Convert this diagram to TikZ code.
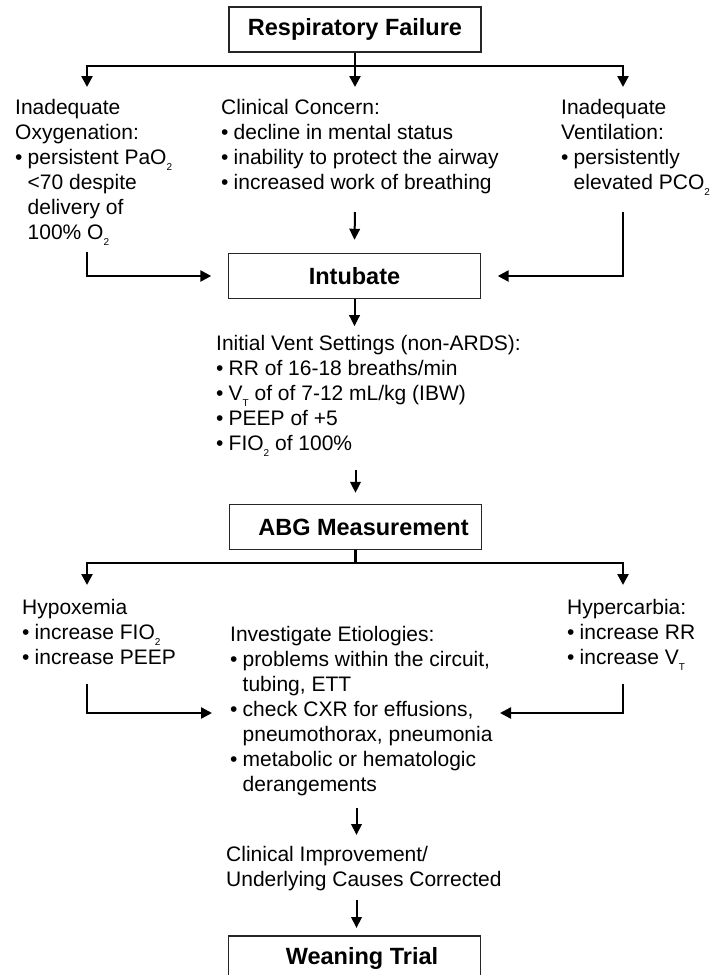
\documentclass[tikz,border=0pt]{standalone}
\usepackage{fontspec}
\setmainfont{Liberation Sans}
\usetikzlibrary{arrows.meta}

% small lowered index as used in PaO2, FIO2, VT
\newcommand\lowsub[1]{\raisebox{-6pt}{\fontsize{10}{10}\selectfont #1}}
% bullet with hanging indent for list items
\newcommand\bulletmark{\makebox[12.5pt][l]{\textbullet}}
\newcommand\contline{\hspace*{12.5pt}}
% stacked lines, baseline on the first line
\newcommand\textlines[1]{\begin{tabular}[t]{@{}l@{}}#1\end{tabular}}

\begin{document}
\begin{tikzpicture}[x=1pt,y=-1pt,
  box/.style={draw=black!85, line width=1.4pt, minimum width=252pt,
    minimum height=45pt, inner sep=0pt,
    font=\fontsize{23.5}{28}\selectfont\bfseries},
  txt/.style={anchor=base west, inner sep=0pt,
    font=\fontsize{21}{25}\selectfont},
  plain/.style={line width=2.4pt},
  branch/.style={line width=2.4pt, -{Triangle[length=11pt,width=11pt]}},
  arr/.style={line width=2pt, -{Triangle[length=11pt,width=10.5pt]}},
]
\useasboundingbox (0,0) rectangle (720,975);
\clip (0,0) rectangle (720,975);

% ---- boxes
\node[box] (resp)  at (355,29.5)   {Respiratory Failure};
\node[box] (intub) at (354.5,276)  {Intubate};
\node[box] (abg)   at (355.5,527)  {\hspace*{16pt}ABG Measurement};
\node[box] (wean)  at (354.5,958.5){\hspace*{15pt}Weaning Trial};

% ---- text blocks
\node[txt] (oxy) at (15,114.5) {\textlines{%
  Inadequate\\
  Oxygenation:\\
  \bulletmark persistent PaO\lowsub{2}\\
  \contline <70 despite\\
  \contline delivery of\\
  \contline 100\% O\lowsub{2}}};

\node[txt] (concern) at (221,114.5) {\textlines{%
  Clinical Concern:\\
  \bulletmark decline in mental status\\
  \bulletmark inability to protect the airway\\
  \bulletmark increased work of breathing}};

\node[txt] (ventil) at (561,114.5) {\textlines{%
  Inadequate\\
  Ventilation:\\
  \bulletmark persistently\\
  \contline elevated PCO\lowsub{2}}};

\node[txt] (settings) at (216,350.5) {\textlines{%
  Initial Vent Settings (non-ARDS):\\
  \bulletmark RR of 16-18 breaths/min\\
  \bulletmark V\lowsub{T} of of 7-12 mL/kg (IBW)\\
  \bulletmark PEEP of +5\\
  \bulletmark FIO\lowsub{2} of 100\%}};

\node[txt] (hypox) at (22,614.5) {\textlines{%
  Hypoxemia\\
  \bulletmark increase FIO\lowsub{2}\\
  \bulletmark increase PEEP}};

\node[txt] (hypercarb) at (567,614.5) {\textlines{%
  Hypercarbia:\\
  \bulletmark increase RR\\
  \bulletmark increase V\lowsub{T}}};

\node[txt] (etiol) at (230,641.5) {\textlines{%
  Investigate Etiologies:\\
  \bulletmark problems within the circuit,\\
  \contline tubing, ETT\\
  \bulletmark check CXR for effusions,\\
  \contline pneumothorax, pneumonia\\
  \bulletmark metabolic or hematologic\\
  \contline derangements}};

\node[txt] (improve) at (226,861.5) {\textlines{%
  Clinical Improvement/\\
  Underlying Causes Corrected}};

% ---- connector end points
\coordinate (hubTop) at (355,66);
\coordinate (tipOxy) at (87,87);
\coordinate (tipConcern) at (355,87);
\coordinate (tipVentil) at (623,87);
\coordinate (oxyOut) at (87,252);
\coordinate (ventilOut) at (623,212);
\coordinate (concernOut) at (355,212);
\coordinate (settingsOut) at (355.5,470);
\coordinate (hubAbg) at (355.5,563);
\coordinate (tipHypox) at (87,585);
\coordinate (tipHypercarb) at (623,585);
\coordinate (hypoxOut) at (87,684);
\coordinate (hypercarbOut) at (623,684);
\coordinate (tipEtiolL) at (212,713);
\coordinate (tipEtiolR) at (500,713);
\coordinate (etiolOut) at (356.5,808);
\coordinate (tipImprove) at (356.5,835);
\coordinate (improveOut) at (356.5,900);
\coordinate (tipWean) at (356.5,928);

% ---- respiratory failure branches
\draw[branch] (resp.south) -- (tipConcern);
\draw[branch] (hubTop) -| (tipOxy);
\draw[branch] (hubTop) -| (tipVentil);

% ---- into intubate
\draw[branch] (oxyOut) |- ([xshift=-16.5pt]intub.west);
\draw[branch] (ventilOut) |- ([xshift=16.5pt]intub.east);
\draw[arr] (concernOut) -- ([yshift=13pt]intub.north);

% ---- intubate to ABG
\draw[arr] (intub.south) -- ([yshift=-27pt]intub.south);
\draw[arr] (settingsOut) -- ([yshift=11pt]abg.north);

% ---- ABG branches
\draw[plain] (abg.south) -- (hubAbg);
\draw[branch] (hubAbg) -| (tipHypox);
\draw[branch] (hubAbg) -| (tipHypercarb);

% ---- into etiologies
\draw[branch] (hypoxOut) |- (tipEtiolL);
\draw[branch] (hypercarbOut) |- (tipEtiolR);

% ---- towards weaning
\draw[arr] (etiolOut) -- (tipImprove);
\draw[arr] (improveOut) -- (tipWean);
\end{tikzpicture}
\end{document}
